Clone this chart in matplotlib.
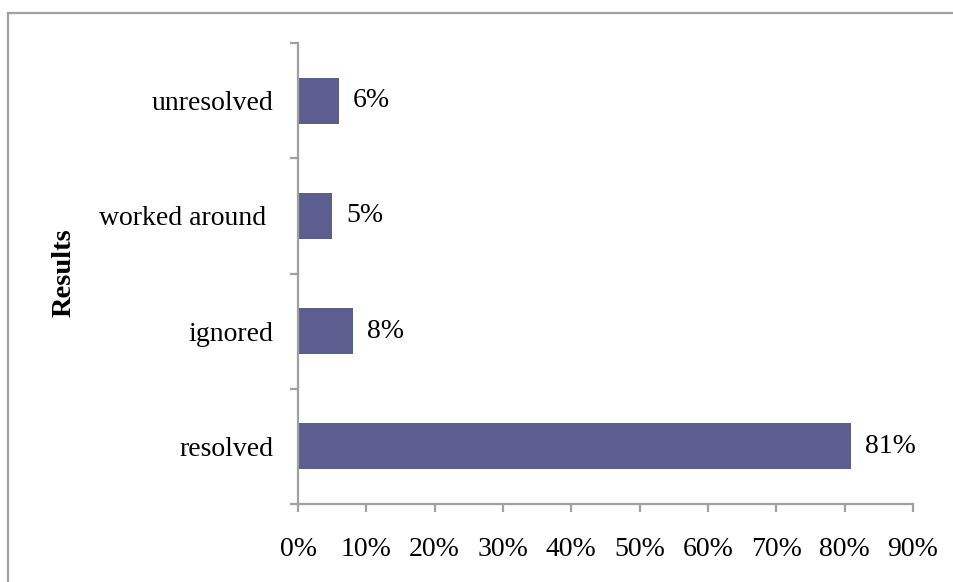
import matplotlib.pyplot as plt
from matplotlib.patches import Rectangle
from matplotlib.ticker import FixedLocator, PercentFormatter

# Results breakdown (share of cases)
categories = ['resolved', 'ignored', 'worked around ', 'unresolved']
shares = [81, 8, 5, 6]

bar_color = '#5B5E8E'
axis_gray = '#A0A0A0'
plt.rcParams['font.family'] = ['Liberation Serif', 'DejaVu Serif']
fs = 20

fig = plt.figure(figsize=(9.54, 5.82), dpi=100)
ax = fig.add_axes([0.3124, 0.134, 0.957 - 0.3124, 0.926 - 0.134])

# outer chart frame, runs off the right and bottom edges
fig.patches.append(Rectangle((8 / 954, -0.1), 1.0, 1 - 13 / 582 + 0.1,
                             transform=fig.transFigure, fill=False,
                             edgecolor=axis_gray, linewidth=1.6))

y = range(len(categories))
bars = ax.barh(y, shares, height=0.4, color=bar_color, zorder=2)
ax.bar_label(bars, labels=[f'{v}%' for v in shares], padding=10, fontsize=fs)

ax.set_xlim(0, 90)
ax.set_ylim(-0.5, len(categories) - 0.5)
ax.set_xticks(range(0, 91, 10))
ax.xaxis.set_major_formatter(PercentFormatter(decimals=0))
ax.set_yticks(list(y))
ax.set_yticklabels(categories)
ax.yaxis.set_minor_locator(FixedLocator([i - 0.5 for i in range(len(categories) + 1)]))

for s in ['top', 'right']:
    ax.spines[s].set_visible(False)
for s in ['left', 'bottom']:
    ax.spines[s].set_color(axis_gray)
    ax.spines[s].set_linewidth(1.6)

ax.tick_params(axis='x', which='major', direction='out', length=6, width=1.6,
               color=axis_gray, labelsize=fs, pad=18)
ax.tick_params(axis='y', which='major', length=0, labelsize=fs, pad=18)
ax.tick_params(axis='y', which='minor', direction='out', length=6, width=1.6,
               color=axis_gray)

fig.text(64 / 954, 1 - 273 / 582, 'Results', rotation=90, ha='center', va='center',
         fontsize=fs + 0.5, fontweight='bold')

fig.savefig('out.png', dpi=100)
